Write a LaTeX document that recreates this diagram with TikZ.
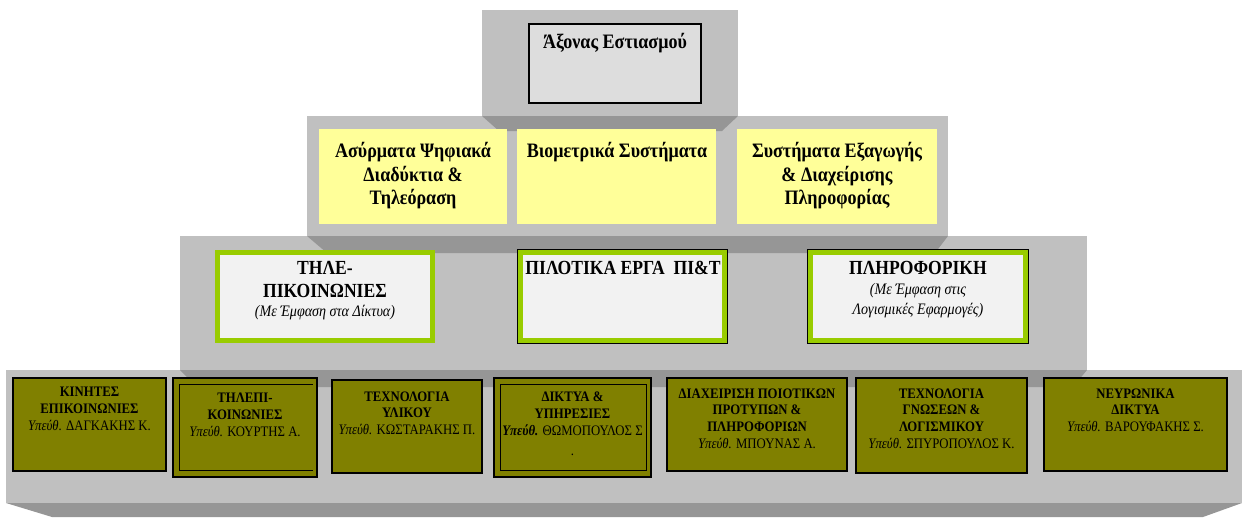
\documentclass[tikz,border=0pt]{standalone}
\usepackage{fontspec}
\setmainfont{Liberation Serif}[FakeStretch=0.88]

\definecolor{platlight}{RGB}{192,192,192}
\definecolor{platdark}{RGB}{150,150,150}
\definecolor{axisgray}{RGB}{221,221,221}
\definecolor{areayellow}{RGB}{255,255,153}
\definecolor{progpaper}{RGB}{242,242,242}
\definecolor{proggreen}{RGB}{153,204,0}
\definecolor{labolive}{RGB}{128,128,0}

\begin{document}
\begin{tikzpicture}[x = 1pt, y = -1pt]
\useasboundingbox (0,0) rectangle (1242,517);
\tikzstyle{AxisStyle}=[draw, line width = 1.5pt, fill = axisgray,
                       minimum width = 172pt, minimum height = 79pt]
\tikzstyle{AreaStyle}=[fill = areayellow, minimum height = 95pt]
\tikzstyle{ProgStyle}=[draw = proggreen, line width = 5pt, fill = progpaper]
\tikzstyle{ProgEdge}=[draw = black, line width = 1pt]
\tikzstyle{LabStyle}=[draw, line width = 1.5pt, fill = labolive]
\tikzstyle{BigText}=[font = \fontsize{20.5}{23.5}\selectfont\bfseries, align = center, inner sep = 0pt]
\tikzstyle{MidText}=[font = \fontsize{20}{23}\selectfont\bfseries, align = center, inner sep = 0pt]
\tikzstyle{NoteText}=[font = \fontsize{16}{20}\selectfont\itshape, align = center, inner sep = 0pt]
\tikzstyle{LabText}=[font = \fontsize{14.5}{16.7}\selectfont, align = center, inner sep = 0pt]
% the four platforms of the pyramid
\fill[platlight] (6,370) rectangle (1242,503);
\fill[platlight] (180,236) rectangle (1087,370);
\fill[platlight] (307,116) rectangle (948,236);
\fill[platlight] (482,10) rectangle (738,116);
\fill[platdark] (6,503) -- (1242,503) -- (1203,517) -- (52,517) -- cycle;
\fill[platdark] (180,370) -- (1087,370) -- (1073,387) -- (197,387) -- cycle;
\fill[platdark] (307,236) -- (948,236) -- (935,253) -- (327,253) -- cycle;
\fill[platdark] (482,116) -- (738,116) -- (722,131) -- (499,131) -- cycle;
% top
\node[AxisStyle] (axis) at (615,63.5) {};
\node[BigText] (axist) at (615,43) {Άξονας Εστιασμού};
% second level
\node[AreaStyle, minimum width = 188pt] (area1) at (413,176.5) {};
\node[AreaStyle, minimum width = 199pt] (area2) at (616.5,176.5) {};
\node[AreaStyle, minimum width = 200pt] (area3) at (837,176.5) {};
\node[BigText] (area1t) at (413,176) {Ασύρματα Ψηφιακά\\Διαδύκτια \&\\Τηλεόραση};
\node[BigText] (area2t) at (617,152) {Βιομετρικά Συστήματα};
\node[BigText] (area3t) at (837,176) {Συστήματα Εξαγωγής\\\& Διαχείρισης\\Πληροφορίας};
% third level
\node[ProgEdge, minimum width = 210pt, minimum height = 94pt] (prog2e) at (622.5,296.5) {};
\node[ProgEdge, minimum width = 221pt, minimum height = 94pt] (prog3e) at (918,296.5) {};
\node[ProgStyle, minimum width = 215pt, minimum height = 88pt] (prog1) at (325,296.5) {};
\node[ProgStyle, minimum width = 204pt, minimum height = 88pt] (prog2) at (622.5,296.5) {};
\node[ProgStyle, minimum width = 215pt, minimum height = 88pt] (prog3) at (918,296.5) {};
\node[MidText] (prog1t) at (325,279.5) {ΤΗΛΕ-\\ΠΙΚΟΙΝΩΝΙΕΣ};
\node[NoteText] (prog1s) at (325,313) {(Με Έμφαση στα Δίκτυα)};
\node[MidText] (prog2t) at (623,268) {ΠΙΛΟΤΙΚΑ ΕΡΓΑ\ \ ΠΙ\&Τ};
\node[MidText] (prog3t) at (918,268) {ΠΛΗΡΟΦΟΡΙΚΗ};
\node[NoteText] (prog3s) at (918,301) {(Με Έμφαση στις\\Λογισμικές Εφαρμογές)};
% bottom level
\node[LabStyle, minimum width = 153pt, minimum height = 93pt] (lab1) at (89.5,424.5) {};
\node[LabStyle, minimum width = 144pt, minimum height = 99pt] (lab2) at (245,427.5) {};
\node[LabStyle, minimum width = 150pt, minimum height = 93pt] (lab3) at (407,426.5) {};
\node[LabStyle, minimum width = 157pt, minimum height = 99pt] (lab4) at (572.5,427.5) {};
\node[LabStyle, minimum width = 180pt, minimum height = 93pt] (lab5) at (757,424.5) {};
\node[LabStyle, minimum width = 171pt, minimum height = 95pt] (lab6) at (941.5,425.5) {};
\node[LabStyle, minimum width = 183pt, minimum height = 93pt] (lab7) at (1135.5,424.5) {};
\draw[line width = 1.2pt] ([xshift = -5pt, yshift = -7pt]lab2.north east) -| ([xshift = 7pt, yshift = 7pt]lab2.south west) -- ([xshift = -5pt, yshift = 7pt]lab2.south east);
\draw[line width = 1.2pt] ([xshift = 7pt, yshift = -7pt]lab4.north west) rectangle ([xshift = -5pt, yshift = 7pt]lab4.south east);
\node[LabText] (lab1t) at (89.5,409) {\textbf{ΚΙΝΗΤΕΣ}\\\textbf{ΕΠΙΚΟΙΝΩΝΙΕΣ}\\\textit{Υπεύθ.} ΔΑΓΚΑΚΗΣ Κ.};
\node[LabText] (lab2t) at (245,415) {\textbf{ΤΗΛΕΠΙ-}\\\textbf{ΚΟΙΝΩΝΙΕΣ}\\\textit{Υπεύθ.} ΚΟΥΡΤΗΣ Α.};
\node[LabText] (lab3t) at (407,413) {\textbf{ΤΕΧΝΟΛΟΓΙΑ}\\\textbf{ΥΛΙΚΟΥ}\\\textit{Υπεύθ.} ΚΩΣΤΑΡΑΚΗΣ Π.};
\node[LabText] (lab4t) at (572.5,424) {\textbf{ΔΙΚΤΥΑ \&}\\\textbf{ΥΠΗΡΕΣΙΕΣ}\\\textbf{\textit{Υπεύθ.}} ΘΩΜΟΠΟΥΛΟΣ Σ\\[4pt].};
\node[LabText] (lab5t) at (757,418.5) {\textbf{ΔΙΑΧΕΙΡΙΣΗ ΠΟΙΟΤΙΚΩΝ}\\\textbf{ΠΡΟΤΥΠΩΝ \&}\\\textbf{ΠΛΗΡΟΦΟΡΙΩΝ}\\\textit{Υπεύθ.} ΜΠΟΥΝΑΣ Α.};
\node[LabText] (lab6t) at (941.5,418.5) {\textbf{ΤΕΧΝΟΛΟΓΙΑ}\\\textbf{ΓΝΩΣΕΩΝ \&}\\\textbf{ΛΟΓΙΣΜΙΚΟΥ}\\\textit{Υπεύθ.} ΣΠΥΡΟΠΟΥΛΟΣ Κ.};
\node[LabText] (lab7t) at (1135.5,410) {\textbf{ΝΕΥΡΩΝΙΚΑ}\\\textbf{ΔΙΚΤΥΑ}\\\textit{Υπεύθ.} ΒΑΡΟΥΦΑΚΗΣ Σ.};
\end{tikzpicture}
\end{document}
